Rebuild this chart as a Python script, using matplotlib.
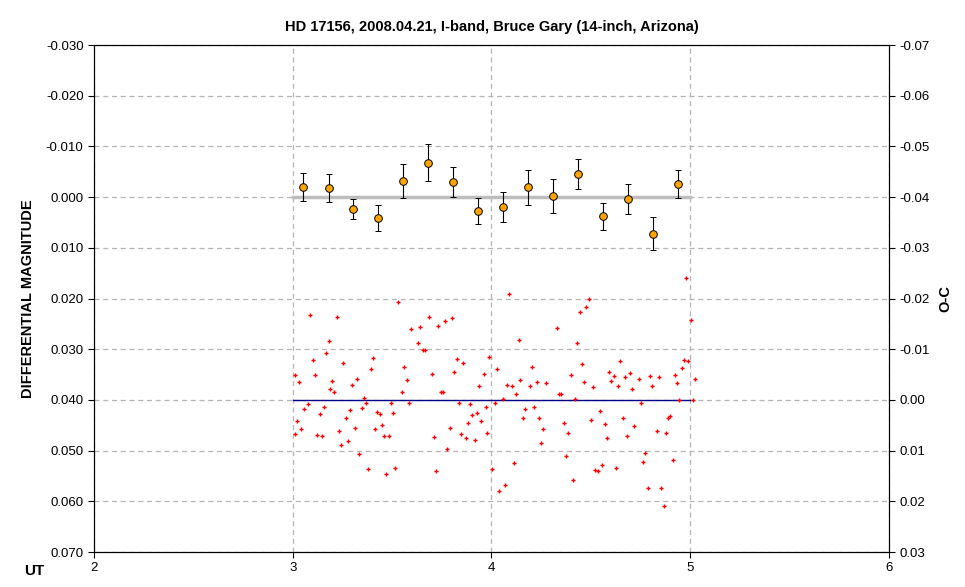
import matplotlib
matplotlib.use("Agg")
import matplotlib.pyplot as plt
from matplotlib.ticker import FormatStrFormatter

plt.rcParams['font.family'] = ['Liberation Sans', 'DejaVu Sans']

avg_ut = [3.052, 3.182, 3.303, 3.429, 3.555, 3.681, 3.806, 3.932, 4.058, 4.184,
          4.309, 4.435, 4.561, 4.687, 4.813, 4.938]
avg_mag = [-0.0020, -0.0018, 0.0024, 0.0041, -0.0032, -0.0068, -0.0030, 0.0028,
           0.0020, -0.0019, -0.0002, -0.0046, 0.0038, 0.0004, 0.0072, -0.0026]
avg_err = [0.0028, 0.0027, 0.0020, 0.0026, 0.0033, 0.0036, 0.0029, 0.0026,
           0.0030, 0.0034, 0.0034, 0.0030, 0.0026, 0.0030, 0.0032, 0.0027]

obs_ut = [3.085, 3.225, 3.530, 3.685, 3.800, 3.765, 3.730, 3.640, 3.595, 3.180, 3.630, 3.165,
          3.655, 3.665, 3.100, 3.405, 3.255, 3.825, 3.855, 3.990, 3.395, 3.560, 3.010, 3.110,
          3.700, 3.810, 3.960, 3.030, 3.200, 3.575, 3.325, 3.300, 3.190, 3.210, 3.550, 3.935,
          3.745, 3.755, 3.360, 3.075, 3.370, 3.495, 3.585, 3.835, 3.890, 3.155, 3.350, 3.055,
          3.290, 3.970, 3.425, 3.440, 3.135, 3.505, 3.925, 3.900, 3.270, 3.020, 3.945, 3.880,
          3.450, 3.040, 3.315, 3.415, 3.790, 3.235, 3.010, 3.120, 3.145, 3.460, 3.485, 3.710,
          3.845, 3.870, 3.980, 3.915, 3.280, 3.245, 3.775, 3.335, 3.380, 3.515, 3.470, 3.720,
          4.005,
          4.086, 4.980, 4.490, 4.475, 4.444, 4.328, 5.005, 4.136, 4.429, 4.029, 4.202, 4.455,
          4.646, 4.591, 4.616, 4.601, 4.672, 4.697, 4.742, 4.798, 4.843, 4.924, 4.960, 4.970,
          4.990, 5.025, 4.934, 4.399, 4.146, 4.076, 4.101, 4.192, 4.227, 4.273, 4.465, 4.510,
          4.636, 4.707, 4.808, 4.121, 4.338, 4.348, 4.056, 4.419, 4.944, 5.015, 4.020, 4.753,
          4.167, 4.212, 4.545, 4.157, 4.237, 4.662, 4.899, 4.889, 4.500, 4.364, 4.571, 4.717,
          4.258, 4.384, 4.833, 4.879, 4.682, 4.581, 4.247, 4.773, 4.374, 4.111, 4.763, 4.914,
          4.556, 4.520, 4.535, 4.626, 4.409, 4.066, 4.040, 4.788, 4.854, 4.869]
obs_mag = [0.0233, 0.0237, 0.0206, 0.0237, 0.0239, 0.0245, 0.0255, 0.0257, 0.0261, 0.0284, 0.0288, 0.0308,
           0.0302, 0.0302, 0.0322, 0.0318, 0.0327, 0.0320, 0.0327, 0.0316, 0.0339, 0.0335, 0.0351, 0.0351,
           0.0349, 0.0345, 0.0349, 0.0365, 0.0363, 0.0361, 0.0359, 0.0371, 0.0378, 0.0384, 0.0384, 0.0373,
           0.0384, 0.0384, 0.0396, 0.0408, 0.0406, 0.0406, 0.0406, 0.0406, 0.0408, 0.0414, 0.0416, 0.0418,
           0.0420, 0.0414, 0.0424, 0.0427, 0.0427, 0.0425, 0.0425, 0.0429, 0.0435, 0.0441, 0.0441, 0.0445,
           0.0449, 0.0457, 0.0455, 0.0457, 0.0455, 0.0461, 0.0467, 0.0469, 0.0471, 0.0471, 0.0471, 0.0473,
           0.0467, 0.0475, 0.0465, 0.0480, 0.0482, 0.0488, 0.0496, 0.0506, 0.0537, 0.0535, 0.0547, 0.0541,
           0.0537,
           0.0192, 0.0159, 0.0200, 0.0216, 0.0227, 0.0259, 0.0243, 0.0282, 0.0288, 0.0339, 0.0335, 0.0329,
           0.0324, 0.0344, 0.0353, 0.0363, 0.0355, 0.0347, 0.0359, 0.0353, 0.0355, 0.0351, 0.0337, 0.0322,
           0.0324, 0.0359, 0.0367, 0.0351, 0.0361, 0.0371, 0.0373, 0.0373, 0.0365, 0.0367, 0.0365, 0.0375,
           0.0373, 0.0378, 0.0373, 0.0388, 0.0388, 0.0388, 0.0398, 0.0398, 0.0400, 0.0400, 0.0406, 0.0406,
           0.0418, 0.0414, 0.0422, 0.0435, 0.0435, 0.0435, 0.0431, 0.0435, 0.0439, 0.0445, 0.0447, 0.0451,
           0.0457, 0.0465, 0.0461, 0.0465, 0.0471, 0.0475, 0.0484, 0.0504, 0.0510, 0.0525, 0.0522, 0.0518,
           0.0529, 0.0539, 0.0541, 0.0535, 0.0557, 0.0567, 0.0580, 0.0573, 0.0573, 0.0610]

ut_range = [3.0, 5.0]
zero_level = [0.0, 0.0]
oc_level = [0.040, 0.040]

fig = plt.figure(figsize=(9.65, 5.87), dpi=100)
ax = fig.add_axes([0.0974, 0.0596, 0.8238, 0.8637])
ax.set_xlim(2, 6)
ax.set_ylim(0.070, -0.030)
ax.set_xticks([2, 3, 4, 5, 6])
ax.set_yticks([-0.03, -0.02, -0.01, 0.0, 0.01, 0.02, 0.03, 0.04, 0.05, 0.06, 0.07])
ax.yaxis.set_major_formatter(FormatStrFormatter('%.3f'))
ax.grid(True, color='#b4b4b4', linestyle=(0, (4, 3)), linewidth=0.9)
ax.set_axisbelow(True)
ax.tick_params(labelsize=9.5, direction='out', length=4)

ax.plot(ut_range, zero_level, color='#bdbdbd', linewidth=2.5, zorder=2)
ax.plot(ut_range, oc_level, color='#00008b', linewidth=1.0, zorder=2)
ax.scatter(obs_ut, obs_mag, marker='+', s=9, color='red', linewidths=1.0, zorder=3)
ax.errorbar(avg_ut, avg_mag, yerr=avg_err, fmt='o', color='black', ecolor='black',
            elinewidth=0.8, capsize=2.5, capthick=0.8, markersize=5.5,
            markerfacecolor='#ffa500', markeredgecolor='black', markeredgewidth=0.7, zorder=4)

ax.set_title('HD 17156, 2008.04.21, I-band, Bruce Gary (14-inch, Arizona)',
             fontsize=10.5, fontweight='bold', pad=10)
ax.set_ylabel('DIFFERENTIAL MAGNITUDE', fontsize=10.5, fontweight='bold', labelpad=8)

ax2 = ax.twinx()
ax2.set_ylim(0.03, -0.07)
ax2.set_yticks([-0.07, -0.06, -0.05, -0.04, -0.03, -0.02, -0.01, 0.0, 0.01, 0.02, 0.03])
ax2.yaxis.set_major_formatter(FormatStrFormatter('%.2f'))
ax2.tick_params(labelsize=9.5, direction='out', length=4)
ax2.set_ylabel('O-C', fontsize=10.5, fontweight='bold', labelpad=6)

fig.text(0.025, 0.02, 'UT', fontsize=11, fontweight='bold')

fig.savefig('out.png', dpi=100)
